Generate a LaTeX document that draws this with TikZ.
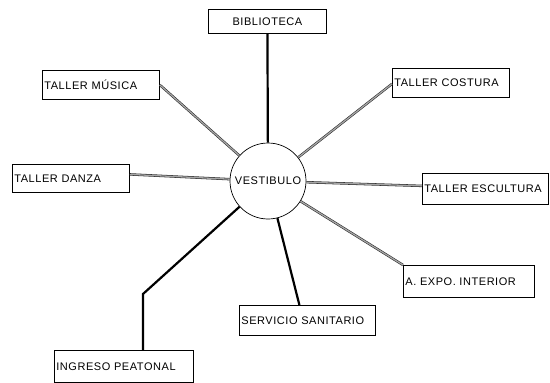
\documentclass[tikz,border=0pt]{standalone}
\usepackage{fontspec}
\setmainfont{Liberation Sans}[LetterSpace=5]
\begin{document}
\begin{tikzpicture}[x=1pt,y=-1pt,
  box/.style={draw, line width=0.8pt, inner xsep=2pt, inner ysep=0pt,
    anchor=north west, align=left, font=\fontsize{11}{12}\selectfont},
  hub/.style={draw, circle, line width=0.7pt, minimum size=76pt, inner sep=0pt,
    font=\fontsize{11}{12}\selectfont},
  dbl/.style={draw=black!85, line width=0.55pt, double=black!35, double distance=1.3pt},
  thick line/.style={line width=2.2pt}]
\useasboundingbox (0,0) rectangle (550,383);
\node[hub] (v) at (268,181) {VESTIBULO};
\node[box, align=center, minimum width=118pt, minimum height=24pt, text width=114pt] (bib) at (208,9) {BIBLIOTECA};
\node[box, minimum width=117pt, minimum height=29pt, text width=113pt] (mus) at (42,70) {TALLER MÚSICA};
\node[box, minimum width=117pt, minimum height=28pt, text width=113pt] (dan) at (12,164) {TALLER DANZA};
\node[box, minimum width=117pt, minimum height=29pt, text width=113pt] (cos) at (392,68) {TALLER COSTURA};
\node[box, minimum width=126pt, minimum height=31pt, text width=122pt] (esc) at (422,173) {TALLER ESCULTURA};
\node[box, minimum width=131pt, minimum height=32pt, text width=127pt] (exp) at (403,265) {A. EXPO. INTERIOR};
\node[box, minimum width=136pt, minimum height=30pt, text width=132pt] (san) at (239,305) {SERVICIO SANITARIO};
\node[box, minimum width=139pt, minimum height=32pt, text width=135pt] (ing) at (54,350) {INGRESO PEATONAL};
\coordinate (bend) at (143,294);
\draw[thick line] (bib) -- (v);
\draw[dbl] (v) -- (mus.east);
\draw[dbl] (v) -- ([yshift=4pt]dan.east);
\draw[dbl] (v) -- ([yshift=-1pt]cos.west);
\draw[dbl] (v) -- ([yshift=3pt]esc.west);
\draw[dbl] (v) -- (exp.north west);
\draw[thick line] (v) -- ([xshift=-8pt]san.north);
\draw[thick line] (v) -- (bend) -- (bend |- ing.north);
\end{tikzpicture}
\end{document}
